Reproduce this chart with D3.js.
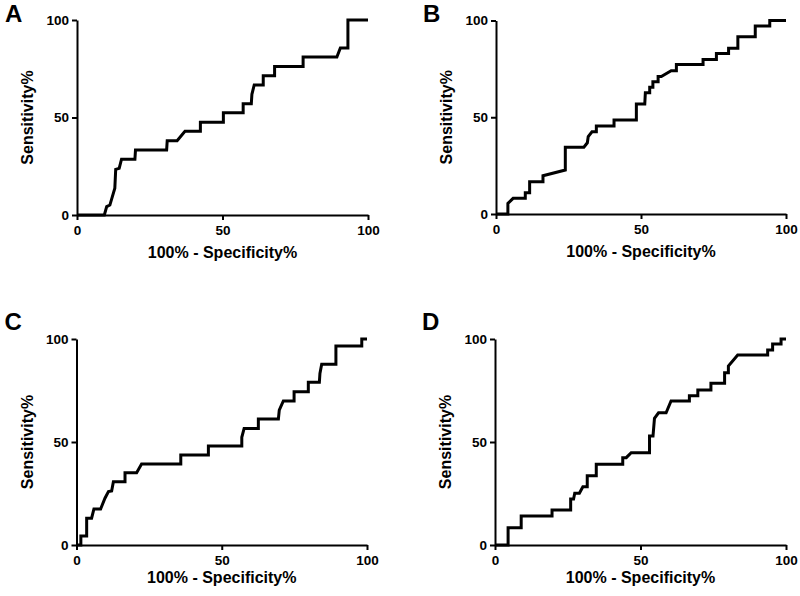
<!DOCTYPE html>
<html>
<head>
<meta charset="utf-8">
<script src="https://cdn.jsdelivr.net/npm/d3@7"></script>
<style>
  html, body { margin: 0; padding: 0; background: #fff; }
  svg { display: block; }
  text { font-family: "Liberation Sans", Arial, sans-serif; font-weight: bold; fill: #000; }
</style>
</head>
<body>
<svg id="chart" width="800" height="596"></svg>
<script>
// ---- data (x = 100% - Specificity%, y = Sensitivity%) ----
const panelLetters = ["A", "B", "C", "D"];
const xTicks = [0, 50, 100];
const yTicks = [0, 50, 100];
const xTitle = "100% - Specificity%";
const yTitle = "Sensitivity%";

const rocA = [[0,0],[9.4,0],[10.2,4.3],[11.3,5.1],[13,13.7],[13.3,23.4],[14.5,23.9],[15.3,28.6],[19.9,28.6],[20.1,33.3],[30.8,33.3],[31,38.1],[34.4,38.1],[37.1,42.9],[42.4,42.9],[42.4,47.6],[50.3,47.6],[50.3,52.4],[57.1,52.4],[57.1,57.1],[59.9,57.1],[60.1,61.9],[60.9,66.7],[64,66.7],[64,71.4],[67.9,71.4],[67.9,76.2],[77.7,76.2],[77.7,81],[89.3,81],[90.5,85.7],[93.1,85.7],[93.1,100],[100,100]];

const rocB = [[0,0],[4.1,0],[4.1,5.5],[5.9,8.1],[10.1,8.1],[10.1,11],[11.6,11],[11.6,16.7],[16.2,16.7],[16.2,19.8],[23.9,22.7],[23.9,34.5],[30.3,34.5],[31.5,36.8],[31.8,40],[33.1,42.5],[34.6,42.5],[34.6,45.5],[40.7,45.5],[40.7,48.6],[48.4,48.6],[48.4,56.8],[51.3,56.8],[51.5,62.7],[53,62.7],[53,65.5],[54.1,65.5],[54.1,68.4],[55.9,68.4],[55.9,71],[57,71],[60.4,74],[62.2,74],[62.2,77.3],[71.4,77.3],[71.4,79.9],[76,79.9],[76,83],[80.2,83],[80.2,85.6],[83.4,85.6],[83.4,91.6],[89.4,91.6],[89.4,97.2],[94.4,97.2],[94.4,100],[100,100]];

const rocC = [[0,0],[1.5,0],[1.5,4.4],[3.5,4.4],[3.5,13],[5.2,13],[6,17.5],[8.3,17.5],[9.8,22.7],[11,25.9],[12.1,26.2],[12.7,30.7],[16.7,30.7],[16.7,35.1],[20.7,35.1],[22.4,39.3],[35.9,39.3],[35.9,43.7],[45.4,43.7],[45.4,48.1],[56.9,48.1],[56.9,52.3],[57.7,56.6],[62.6,56.6],[62.6,61.2],[69.5,61.2],[69.8,65.5],[71.2,69.9],[74.9,69.9],[74.9,74.4],[79.8,74.4],[79.8,79],[83.6,79],[83.8,83.3],[84.4,87.7],[89.3,87.7],[89.3,96.6],[98.2,96.6],[98.2,100],[100,100]];

const rocD = [[0,0],[4.5,0],[4.5,8.4],[9,8.4],[9,14.1],[19.6,14.1],[19.6,17],[26,17],[26,22.3],[27,22.3],[27.4,25.1],[29,25.1],[30.2,28.3],[31.7,28.3],[31.7,33.6],[34.8,33.6],[34.8,39.2],[43.9,39.2],[43.9,42.4],[45.1,42.4],[46.8,44.8],[53.1,44.8],[53.1,52.9],[54.3,52.9],[54.8,61.5],[56.2,64.2],[58.8,64.2],[60.5,69.9],[66.8,69.9],[66.8,72.5],[69.7,72.5],[69.7,75.2],[74.2,75.2],[74.2,78.5],[78.9,78.5],[78.9,83.6],[80.2,83.6],[80.2,86.9],[83.4,92.2],[93.7,92.2],[93.7,94.7],[95.4,94.7],[95.4,97.6],[98.3,97.6],[98.3,100],[100,100]];

const curves = [rocA, rocB, rocC, rocD];

// ---- layout ----
const frames = [
  { left: 77,  right: 368, top: 20,  bottom: 215, letterY: 22,  titleDy: 43 },
  { left: 496, right: 786, top: 20.5,bottom: 214, letterY: 22,  titleDy: 43 },
  { left: 76.5,right: 367, top: 339, bottom: 545, letterY: 330, titleDy: 38 },
  { left: 495, right: 786, top: 339, bottom: 545, letterY: 330, titleDy: 38 }
];

const svg = d3.select("#chart");

frames.forEach((f, i) => {
  const x = d3.scaleLinear().domain([0, 100]).range([f.left, f.right]);
  const y = d3.scaleLinear().domain([0, 100]).range([f.bottom, f.top]);
  const g = svg.append("g");

  const gx = g.append("g")
    .attr("transform", `translate(0,${f.bottom})`)
    .call(d3.axisBottom(x).tickValues(xTicks).tickSize(5).tickSizeOuter(0).tickPadding(5));
  const gy = g.append("g")
    .attr("transform", `translate(${f.left},0)`)
    .call(d3.axisLeft(y).tickValues(yTicks).tickSize(5).tickSizeOuter(0).tickPadding(3));

  [gx, gy].forEach(a => {
    a.select(".domain").attr("stroke", "#000").attr("stroke-width", 2);
    a.selectAll(".tick line").attr("stroke", "#000").attr("stroke-width", 2);
    a.selectAll(".tick text")
      .style("font-family", '"Liberation Sans", Arial, sans-serif')
      .style("font-weight", "bold")
      .style("font-size", "13.5px")
      .attr("fill", "#000");
  });

  const line = d3.line().x(d => x(d[0])).y(d => y(d[1]));
  g.append("path")
    .datum(curves[i])
    .attr("d", line)
    .attr("fill", "none")
    .attr("stroke", "#000")
    .attr("stroke-width", 3)
    .attr("stroke-linejoin", "miter")
    .attr("stroke-linecap", "butt");

  g.append("text")
    .attr("x", (f.left + f.right) / 2)
    .attr("y", f.bottom + f.titleDy)
    .attr("text-anchor", "middle")
    .style("font-size", "16px")
    .text(xTitle);

  g.append("text")
    .attr("transform", `translate(${f.left - 44},${(f.top + f.bottom) / 2}) rotate(-90)`)
    .attr("text-anchor", "middle")
    .style("font-size", "16px")
    .text(yTitle);

  g.append("text")
    .attr("x", f.left - 72 + (i % 2 === 1 ? -1 : 0))
    .attr("y", f.letterY)
    .style("font-size", "24px")
    .text(panelLetters[i]);
});
</script>
</body>
</html>
